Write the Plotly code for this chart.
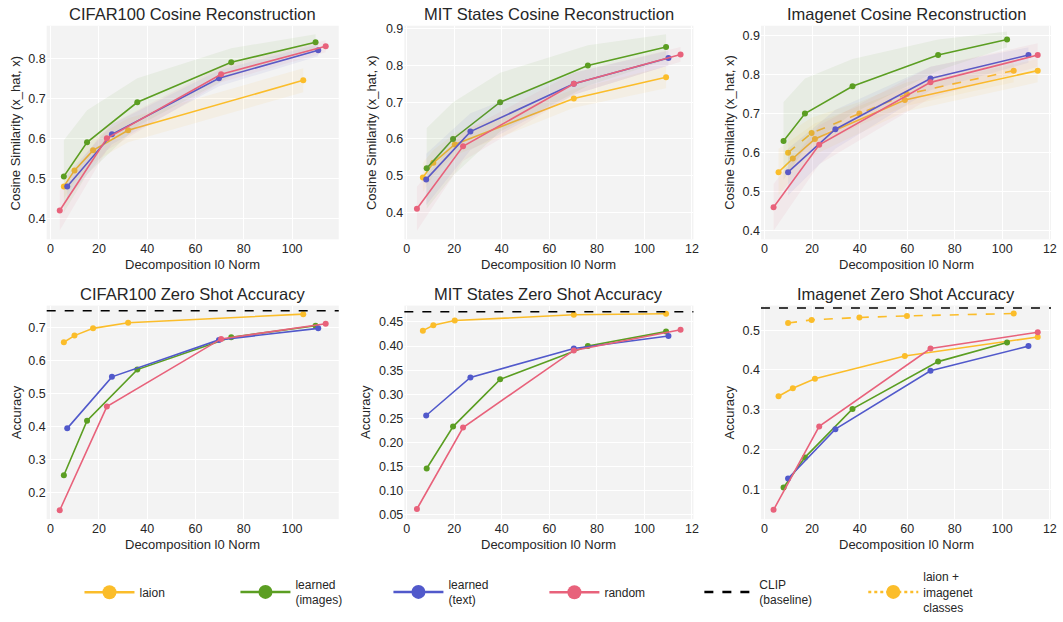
import plotly.graph_objects as go

# ---------------- data ----------------
# CIFAR100
cifar_laion_x = [5.5, 9.9, 17.6, 32.1, 104.6]
cifar_laion_cos = [0.48, 0.52, 0.57, 0.62, 0.745]
cifar_laion_cos_err = [0.03, 0.03, 0.03, 0.03, 0.03]
cifar_laion_acc = [0.655, 0.675, 0.697, 0.714, 0.740]

cifar_img_x = [5.5, 15.1, 35.9, 74.8, 109.7]
cifar_img_cos = [0.505, 0.59, 0.69, 0.79, 0.84]
cifar_img_cos_err = [0.09, 0.08, 0.06, 0.035, 0.02]
cifar_img_acc = [0.252, 0.417, 0.572, 0.670, 0.705]

cifar_txt_x = [6.9, 25.4, 69.7, 110.8]
cifar_txt_cos = [0.48, 0.61, 0.75, 0.82]
cifar_txt_cos_err = [0.03, 0.025, 0.02, 0.015]
cifar_txt_acc = [0.394, 0.550, 0.662, 0.697]

cifar_rnd_x = [3.8, 23.3, 70.6, 113.9]
cifar_rnd_cos = [0.42, 0.60, 0.76, 0.83]
cifar_rnd_cos_err = [0.05, 0.03, 0.02, 0.015]
cifar_rnd_acc = [0.146, 0.460, 0.665, 0.711]

cifar_clip = 0.75

# MIT States
mit_laion_x = [6.8, 11.2, 20.2, 70.3, 109.1]
mit_laion_cos = [0.495, 0.535, 0.585, 0.71, 0.768]
mit_laion_cos_err = [0.04, 0.035, 0.03, 0.025, 0.03]
mit_laion_acc = [0.432, 0.443, 0.453, 0.465, 0.467]

mit_img_x = [8.4, 19.5, 39.3, 76.2, 109.1]
mit_img_cos = [0.52, 0.60, 0.70, 0.80, 0.85]
mit_img_cos_err = [0.11, 0.10, 0.08, 0.055, 0.035]
mit_img_acc = [0.146, 0.233, 0.331, 0.400, 0.430]

mit_txt_x = [8.2, 26.8, 70.3, 110.1]
mit_txt_cos = [0.49, 0.62, 0.75, 0.82]
mit_txt_cos_err = [0.07, 0.05, 0.03, 0.02]
mit_txt_acc = [0.256, 0.335, 0.395, 0.421]

mit_rnd_x = [4.3, 23.7, 70.3, 115.2]
mit_rnd_cos = [0.41, 0.58, 0.75, 0.83]
mit_rnd_cos_err = [0.06, 0.04, 0.03, 0.02]
mit_rnd_acc = [0.062, 0.231, 0.391, 0.434]

mit_clip = 0.471

# Imagenet
inet_laion_x = [5.9, 11.9, 21.2, 59.0, 114.9]
inet_laion_cos = [0.55, 0.585, 0.635, 0.735, 0.81]
inet_laion_cos_err = [0.06, 0.05, 0.04, 0.03, 0.03]
inet_laion_acc = [0.334, 0.354, 0.378, 0.435, 0.483]

inet_laionin_x = [9.9, 19.8, 39.9, 59.9, 104.8]
inet_laionin_cos = [0.60, 0.65, 0.70, 0.75, 0.81]
inet_laionin_cos_err = [0.05, 0.04, 0.03, 0.03, 0.03]
inet_laionin_acc = [0.518, 0.526, 0.532, 0.536, 0.542]

inet_img_x = [8.0, 17.0, 37.0, 73.0, 102.0]
inet_img_cos = [0.63, 0.70, 0.77, 0.85, 0.89]
inet_img_cos_err = [0.10, 0.09, 0.07, 0.04, 0.02]
inet_img_acc = [0.104, 0.180, 0.302, 0.421, 0.469]

inet_txt_x = [9.9, 29.8, 69.8, 111.0]
inet_txt_cos = [0.55, 0.66, 0.79, 0.85]
inet_txt_cos_err = [0.06, 0.05, 0.03, 0.02]
inet_txt_acc = [0.127, 0.251, 0.398, 0.460]

inet_rnd_x = [3.8, 23.0, 69.8, 114.9]
inet_rnd_cos = [0.46, 0.62, 0.78, 0.85]
inet_rnd_cos_err = [0.06, 0.05, 0.04, 0.03]
inet_rnd_acc = [0.048, 0.258, 0.454, 0.495]

inet_clip = 0.556

x_tick_vals = [0, 20, 40, 60, 80, 100, 120]
x_tick_text_full = ["0", "20", "40", "60", "80", "100", "120"]
x_tick_text_cut = ["0", "20", "40", "60", "80", "100", "12"]

panel_titles = ["CIFAR100 Cosine Reconstruction", "MIT States Cosine Reconstruction",
                "Imagenet Cosine Reconstruction", "CIFAR100 Zero Shot Accuracy",
                "MIT States Zero Shot Accuracy", "Imagenet Zero Shot Accuracy"]
legend_names = ["laion", "learned<br>(images)", "learned<br>(text)", "random",
                "CLIP<br>(baseline)", "laion +<br>imagenet<br>classes"]

# ---------------- style ----------------
C_LAION = "#FBBD2A"
C_IMG = "#5B9E22"
C_TXT = "#5159CB"
C_RND = "#E8627B"
BAND_ALPHA = 0.07
FONT = "Liberation Sans, Arial, sans-serif"
TXT = "#262626"

W, H = 1063, 622

def hex_rgba(h, a):
    h = h.lstrip("#")
    return "rgba(%d,%d,%d,%.3f)" % (int(h[0:2], 16), int(h[2:4], 16), int(h[4:6], 16), a)

fig = go.Figure()

def add_series(ax, x, y, color, err=None, dash="solid"):
    xa = "x" if ax == 1 else "x%d" % ax
    ya = "y" if ax == 1 else "y%d" % ax
    if err is not None:
        up = [v + e for v, e in zip(y, err)]
        lo = [v - e for v, e in zip(y, err)]
        fig.add_trace(go.Scatter(x=list(x) + list(x)[::-1], y=up + lo[::-1],
                                 fill="toself", fillcolor=hex_rgba(color, BAND_ALPHA),
                                 line=dict(width=0), mode="lines", hoverinfo="skip",
                                 showlegend=False, xaxis=xa, yaxis=ya))
    fig.add_trace(go.Scatter(x=x, y=y, mode="lines+markers",
                             line=dict(color=color, width=1.6, dash=dash),
                             marker=dict(color=color, size=6),
                             showlegend=False, xaxis=xa, yaxis=ya))

# panel 1: CIFAR cos
add_series(1, cifar_laion_x, cifar_laion_cos, C_LAION, cifar_laion_cos_err)
add_series(1, cifar_img_x, cifar_img_cos, C_IMG, cifar_img_cos_err)
add_series(1, cifar_txt_x, cifar_txt_cos, C_TXT, cifar_txt_cos_err)
add_series(1, cifar_rnd_x, cifar_rnd_cos, C_RND, cifar_rnd_cos_err)
# panel 2: MIT cos
add_series(2, mit_laion_x, mit_laion_cos, C_LAION, mit_laion_cos_err)
add_series(2, mit_img_x, mit_img_cos, C_IMG, mit_img_cos_err)
add_series(2, mit_txt_x, mit_txt_cos, C_TXT, mit_txt_cos_err)
add_series(2, mit_rnd_x, mit_rnd_cos, C_RND, mit_rnd_cos_err)
# panel 3: Imagenet cos
add_series(3, inet_laion_x, inet_laion_cos, C_LAION, inet_laion_cos_err)
add_series(3, inet_laionin_x, inet_laionin_cos, C_LAION, inet_laionin_cos_err, dash="dash")
add_series(3, inet_img_x, inet_img_cos, C_IMG, inet_img_cos_err)
add_series(3, inet_txt_x, inet_txt_cos, C_TXT, inet_txt_cos_err)
add_series(3, inet_rnd_x, inet_rnd_cos, C_RND, inet_rnd_cos_err)
# panel 4: CIFAR acc
add_series(4, cifar_laion_x, cifar_laion_acc, C_LAION)
add_series(4, cifar_img_x, cifar_img_acc, C_IMG)
add_series(4, cifar_txt_x, cifar_txt_acc, C_TXT)
add_series(4, cifar_rnd_x, cifar_rnd_acc, C_RND)
# panel 5: MIT acc
add_series(5, mit_laion_x, mit_laion_acc, C_LAION)
add_series(5, mit_img_x, mit_img_acc, C_IMG)
add_series(5, mit_txt_x, mit_txt_acc, C_TXT)
add_series(5, mit_rnd_x, mit_rnd_acc, C_RND)
# panel 6: Imagenet acc
add_series(6, inet_laion_x, inet_laion_acc, C_LAION)
add_series(6, inet_laionin_x, inet_laionin_acc, C_LAION, dash="dash")
add_series(6, inet_img_x, inet_img_acc, C_IMG)
add_series(6, inet_txt_x, inet_txt_acc, C_TXT)
add_series(6, inet_rnd_x, inet_rnd_acc, C_RND)

# CLIP baselines
shapes = []
for ax, val in [(4, cifar_clip), (5, mit_clip), (6, inet_clip)]:
    shapes.append(dict(type="line", xref="x%d domain" % ax, x0=0, x1=1,
                       yref="y%d" % ax, y0=val, y1=val,
                       line=dict(color="black", width=1.5, dash="dash")))

# legend (one legend per entry, placed individually)
leg_styles = [
    dict(mode="lines+markers", line=dict(color=C_LAION, width=2.5), marker=dict(color=C_LAION, size=14)),
    dict(mode="lines+markers", line=dict(color=C_IMG, width=2.5), marker=dict(color=C_IMG, size=14)),
    dict(mode="lines+markers", line=dict(color=C_TXT, width=2.5), marker=dict(color=C_TXT, size=14)),
    dict(mode="lines+markers", line=dict(color=C_RND, width=2.5), marker=dict(color=C_RND, size=14)),
    dict(mode="lines", line=dict(color="black", width=2.5, dash="dash")),
    dict(mode="lines+markers", line=dict(color=C_LAION, width=2.5, dash="dot"), marker=dict(color=C_LAION, size=14)),
]
leg_px = [79, 236, 390, 547, 703, 868]
for i, (nm, st) in enumerate(zip(legend_names, leg_styles)):
    lg = "legend" if i == 0 else "legend%d" % (i + 1)
    fig.add_trace(go.Scatter(x=[None], y=[None], name=nm, legend=lg, showlegend=True, **st))

# domains in pixels
col_px = [(46, 340), (406, 697), (765, 1057)]
row_px = [(22, 238), (305, 521)]
x_ranges = [[-1.6, 119.3], [-1.0, 120.6], [-1.5, 120.5]]
y_ranges = [[0.348, 0.881], [0.327, 0.908], [0.378, 0.925],
            [0.119, 0.766], [0.041, 0.484], [0.0246, 0.562]]
y_dticks = [0.1, 0.1, 0.1, 0.1, 0.05, 0.1]
y_fmt = [".1f", ".1f", ".1f", ".1f", ".2f", ".1f"]
ytitle_px = [15, 373, 733, 15, 367, 733]

layout = dict(width=W, height=H, margin=dict(l=0, r=0, t=0, b=0),
              paper_bgcolor="white", plot_bgcolor="#F3F3F3",
              font=dict(family=FONT, color=TXT, size=12), shapes=shapes)
annotations = []
for k in range(6):
    r, c = divmod(k, 3)
    x0, x1 = col_px[c]
    yt, yb = row_px[r]
    sx = "" if k == 0 else str(k + 1)
    layout["xaxis" + sx] = dict(
        domain=[x0 / W, x1 / W], anchor="y" + sx, range=x_ranges[c],
        tickvals=x_tick_vals, ticktext=(x_tick_text_full if c == 0 else x_tick_text_cut),
        showgrid=True, gridcolor="white", gridwidth=1, zeroline=False, showline=False,
        ticks="", tickfont=dict(size=12.5, color=TXT))
    layout["yaxis" + sx] = dict(
        domain=[1 - yb / H, 1 - yt / H], anchor="x" + sx, range=y_ranges[k],
        dtick=y_dticks[k], tick0=0, tickformat=y_fmt[k],
        showgrid=True, gridcolor="white", gridwidth=1, zeroline=False, showline=False,
        ticks="", tickfont=dict(size=12.5, color=TXT))
    annotations.append(dict(text=panel_titles[k], x=(x0 + x1) / 2 / W, y=1 - (10 if r == 0 else 293) / H,
                            xref="paper", yref="paper", showarrow=False, xanchor="center", yanchor="middle",
                            font=dict(size=16.5, color=TXT)))
    annotations.append(dict(text="Decomposition l0 Norm", x=(x0 + x1) / 2 / W, y=1 - (263 if r == 0 else 547) / H,
                            xref="paper", yref="paper", showarrow=False, xanchor="center", yanchor="middle",
                            font=dict(size=13, color=TXT)))
    annotations.append(dict(text=("Cosine Similarity (x_hat, x)" if r == 0 else "Accuracy"),
                            x=ytitle_px[k] / W, y=1 - (yt + yb) / 2 / H, textangle=-90,
                            xref="paper", yref="paper", showarrow=False, xanchor="center", yanchor="middle",
                            font=dict(size=13, color=TXT)))
layout["annotations"] = annotations

for i, px in enumerate(leg_px):
    lg = "legend" if i == 0 else "legend%d" % (i + 1)
    layout[lg] = dict(x=px / W, y=1 - 595 / H, xanchor="left", yanchor="middle",
                      bgcolor="rgba(0,0,0,0)", borderwidth=0, itemwidth=50,
                      font=dict(size=12, color=TXT), valign="middle")

fig.update_layout(**layout)
fig.write_html("out.html", config={"displayModeBar": False},
               post_script="document.body.style.margin='0px';document.body.style.overflow='hidden';")
